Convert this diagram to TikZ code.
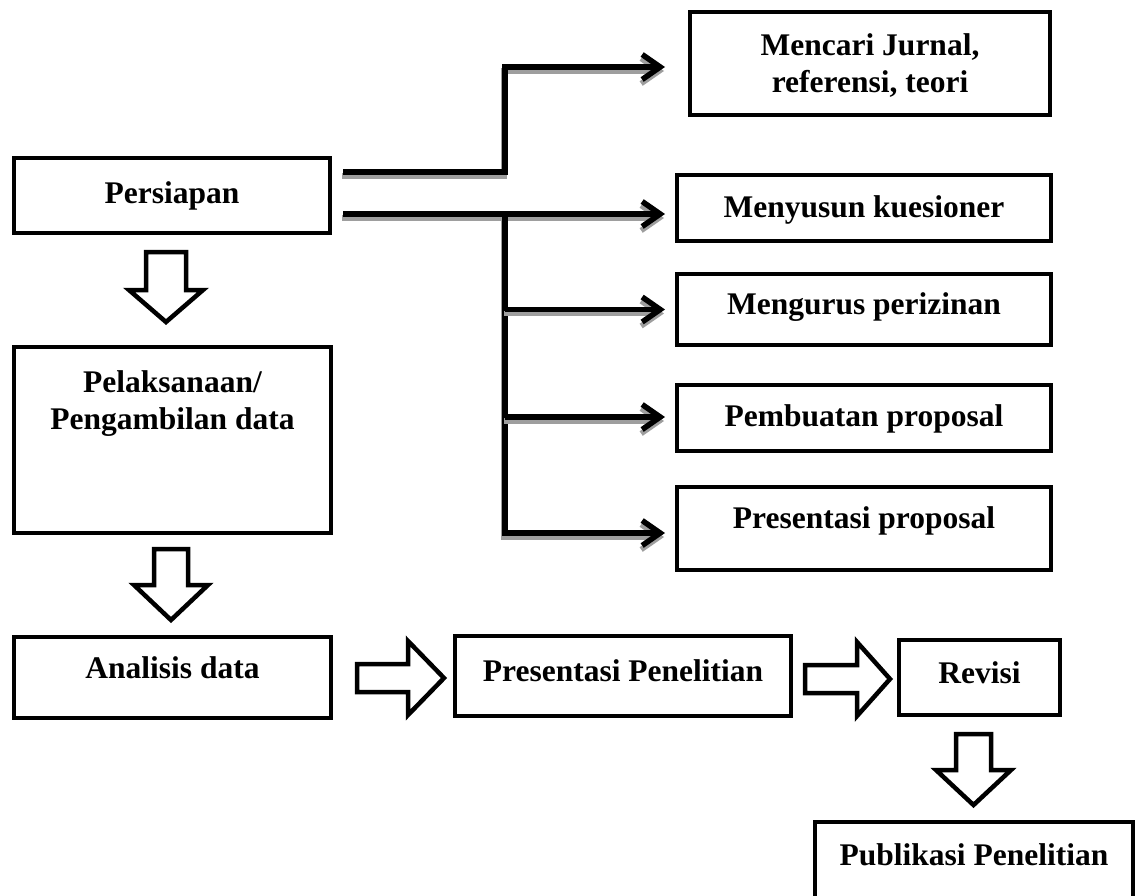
\documentclass[tikz,border=0pt]{standalone}
\usepackage{fontspec}
\setmainfont{Liberation Serif}
\usetikzlibrary{arrows.meta,calc}
\begin{document}
\begin{tikzpicture}[x=1pt,y=-1pt,
  box/.style={draw,line width=4.5pt,rectangle,inner sep=0pt,outer sep=0pt},
  lbl/.style={font=\bfseries\fontsize{31.5}{37}\selectfont,align=center,inner sep=0pt},
  conn/.style={line width=5.5pt,-{Straight Barb[length=18pt,width=25pt]}},
  shadowline/.style={conn,draw=black!38,transform canvas={xshift=-1pt,yshift=-4pt}},
  blockarrow/.style={draw,line width=4.5pt,fill=white,line join=miter}
]
\useasboundingbox (0,0) rectangle (1135,895);
\clip (0,0) rectangle (1135,895);
\newcommand\linkpath[1]{\draw[shadowline] #1; \draw[conn] #1;}

% left column
\node[box,minimum width=316pt,minimum height=75pt] (persiapan) at (172,195.5) {};
\node[lbl,anchor=base] (tpersiapan) at (172,203) {Persiapan};
\node[box,minimum width=317pt,minimum height=186pt] (pelaksanaan) at (172.5,440) {};
\node[lbl] (tpelaksanaan) at (172.5,404) {Pelaksanaan/\\Pengambilan data};
\node[box,minimum width=317pt,minimum height=81pt] (analisis) at (172.5,677.5) {};
\node[lbl,anchor=base] (tanalisis) at (172.5,678) {Analisis data};

% bottom row
\node[box,minimum width=336pt,minimum height=80pt] (presentasi) at (623,676) {};
\node[lbl,anchor=base] (tpresentasi) at (623,681) {Presentasi Penelitian};
\node[box,minimum width=161pt,minimum height=75pt] (revisi) at (979.5,677.5) {};
\node[lbl,anchor=base] (trevisi) at (979.5,683) {Revisi};
\node[box,minimum width=318pt,minimum height=100pt,anchor=north west] (publikasi) at (815,822) {};
\node[lbl,anchor=base] (tpublikasi) at (974,865) {Publikasi Penelitian};

% right column
\node[box,minimum width=360pt,minimum height=103pt] (mencari) at (870,63.5) {};
\node[lbl] (tmencari) at (870,65.5) {Mencari Jurnal,\\referensi, teori};
\node[box,minimum width=374pt,minimum height=66pt] (menyusun) at (864,208) {};
\node[lbl,anchor=base] (tmenyusun) at (864,217) {Menyusun kuesioner};
\node[box,minimum width=374pt,minimum height=71pt] (mengurus) at (864,309.5) {};
\node[lbl,anchor=base] (tmengurus) at (864,314) {Mengurus perizinan};
\node[box,minimum width=374pt,minimum height=66pt] (pembuatan) at (864,418) {};
\node[lbl,anchor=base] (tpembuatan) at (864,426) {Pembuatan proposal};
\node[box,minimum width=374pt,minimum height=83pt] (presprop) at (864,528.5) {};
\node[lbl,anchor=base] (tpresprop) at (864,528) {Presentasi proposal};

% connector end points
\coordinate (pA) at ([xshift=13pt,yshift=23.5pt]persiapan.east);
\coordinate (pB) at ([xshift=13pt,yshift=-18.5pt]persiapan.east);
\coordinate (mA) at ([xshift=-25pt,yshift=-3.5pt]mencari.west);
\coordinate (mB) at ([xshift=-12pt,yshift=-6pt]menyusun.west);
\coordinate (mC) at ([xshift=-12pt]mengurus.west);
\coordinate (mD) at ([xshift=-12pt,yshift=1pt]pembuatan.west);
\coordinate (mE) at ([xshift=-12pt,yshift=-4.5pt]presprop.west);
\coordinate (trunk) at (505,0);

\linkpath{(pA) -| (trunk |- mA) -- (mA)}
\linkpath{(pB) -- (mB)}
\linkpath{(trunk |- pB) -- (trunk |- mE) -- (mE)}
\linkpath{(trunk |- mC) -- (mC)}
\linkpath{(trunk |- mD) -- (mD)}

% block arrows
\draw[blockarrow] (146,252) -- ++(40,0) -- ++(0,38) -- ++(17,0) -- ++(-37,32) -- ++(-37,-32) -- ++(17,0) -- cycle;
\draw[blockarrow] (154,549) -- ++(34,0) -- ++(0,36) -- ++(20,0) -- ++(-37,35) -- ++(-37,-35) -- ++(20,0) -- cycle;
\draw[blockarrow] (956,734) -- ++(35,0) -- ++(0,36) -- ++(20,0) -- ++(-37.5,35) -- ++(-37.5,-35) -- ++(20,0) -- cycle;
\draw[blockarrow] (357,664) -- (408,664) -- (408,641) -- (444,678) -- (408,715) -- (408,692) -- (357,692) -- cycle;
\draw[blockarrow] (805,665) -- (857,665) -- (857,642) -- (890,679) -- (857,716) -- (857,693) -- (805,693) -- cycle;
\end{tikzpicture}
\end{document}
